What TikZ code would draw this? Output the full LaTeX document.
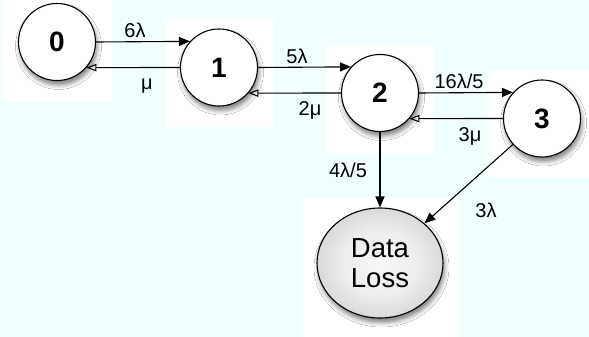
\documentclass[tikz,border=0pt]{standalone}
\usepackage{fontspec}
\setmainfont{Liberation Sans}
\usetikzlibrary{arrows.meta,shapes.geometric,shadows.blur}
\definecolor{bgc}{RGB}{240,255,255}
\pgfdeclareradialshading{dlshade}{\pgfpoint{0bp}{0bp}}{color(0bp)=(black!3); color(15bp)=(black!7); color(50bp)=(black!34); color(100bp)=(black!34)}
\begin{document}
\begin{tikzpicture}[x=1pt,y=-1pt,
  state/.style={circle,draw,line width=1.1pt,fill=white,minimum size=77pt,inner sep=0pt,
    font=\fontsize{28}{30}\selectfont\bfseries,
    blur shadow={shadow xshift=1.5pt,shadow yshift=-4.5pt,shadow blur radius=4.5pt,shadow opacity=50}},
  lossnode/.style={ellipse,draw,line width=1.1pt,minimum width=126pt,minimum height=110pt,inner sep=0pt,
    shading=dlshade,align=center,font=\fontsize{27.5}{30}\selectfont,
    blur shadow={shadow xshift=1.5pt,shadow yshift=-4.5pt,shadow blur radius=4.5pt,shadow opacity=50}},
  lab/.style={font=\fontsize{20}{22}\selectfont,inner sep=0pt,anchor=base},
  fwd/.style={line width=1.1pt,-{Triangle[length=11pt,width=9pt]}},
  bwd/.style={line width=1.1pt,-{Triangle[open,length=10pt,width=7.5pt]}},
  panel/.style={fill=white}]
\useasboundingbox (0,0) rectangle (589,337);
\fill[bgc] (0,0) rectangle (589,337);
\fill[panel] (3,0) rectangle (112,102);
\fill[panel] (166,19) rectangle (274,127);
\fill[panel] (326,45) rectangle (435,153);
\fill[panel] (488,70) rectangle (589,178);
\fill[panel] (303,198) rectangle (457,337);

\node[state] (n0) at (57,42) {0};
\node[state] (n1) at (219,67.5) {1};
\node[state] (n2) at (380,93) {2};
\node[state] (n3) at (542,118.5) {3};
\node[lossnode] (dl) at (380,263) {Data\\Loss};

\draw[fwd] (n0.east) -- (n1.138.5);
\draw[bwd] (n1.west) -- (n0.-41.5);
\draw[fwd] (n1.east) -- (n2.138.5);
\draw[bwd] (n2.west) -- (n1.-41.5);
\draw[fwd] (n2.east) -- (n3.138.5);
\draw[bwd] (n3.west) -- (n2.-41.5);
\draw[fwd] (n2.south) -- (dl.north);
\draw[fwd] (n3) -- (dl);

\node[lab] (l01) at (135,38) {6λ};
\node[lab] (l10) at (147,89) {μ};
\node[lab] (l12) at (297,63.5) {5λ};
\node[lab] (l21) at (310,115) {2μ};
\node[lab] (l23) at (459,88.5) {16λ/5};
\node[lab] (l32) at (470,141) {3μ};
\node[lab] (l2d) at (348,177) {4λ/5};
\node[lab] (l3d) at (486,217) {3λ};
\end{tikzpicture}
\end{document}
